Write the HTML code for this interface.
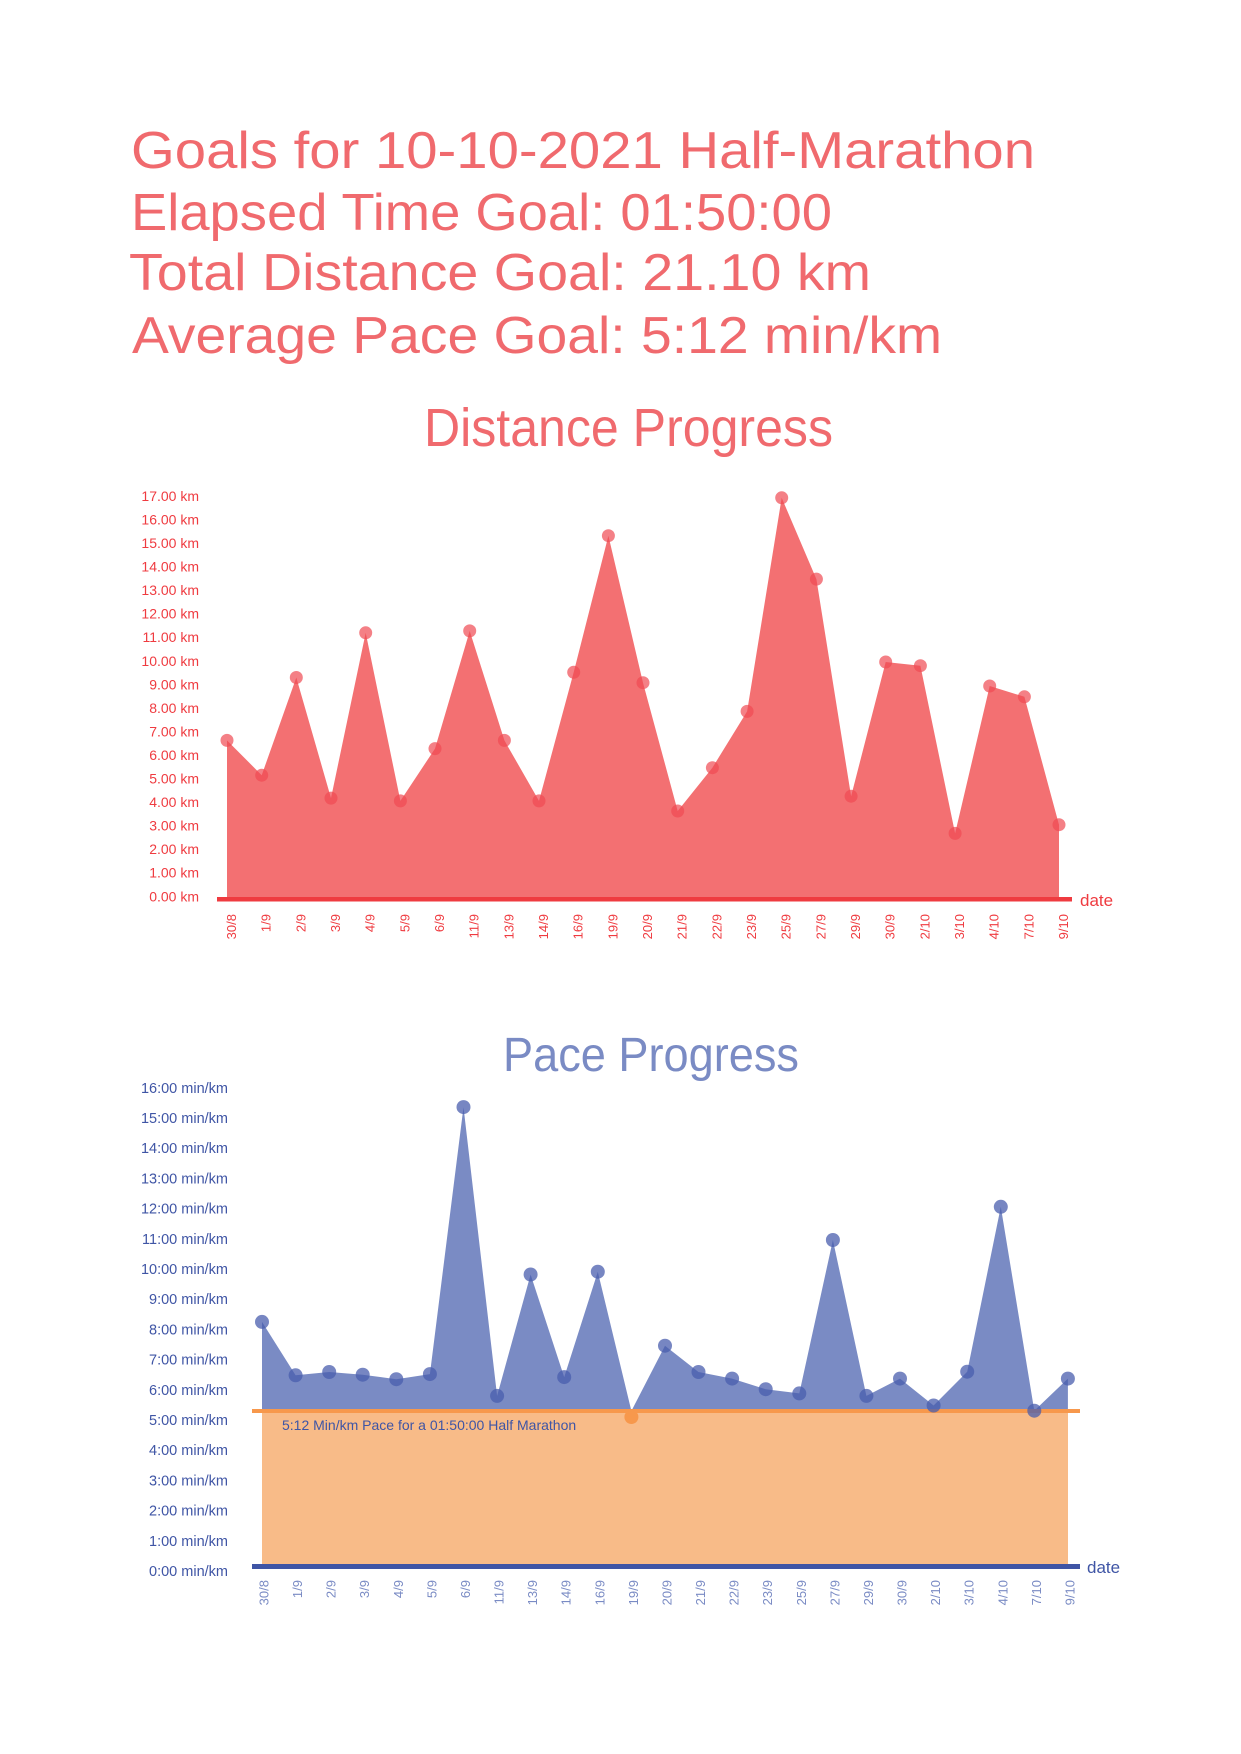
<!DOCTYPE html>
<html><head><meta charset="utf-8"><style>html,body{margin:0;padding:0;background:#fff}svg{display:block}</style></head>
<body>
<svg width="1241" height="1754" viewBox="0 0 1241 1754" xmlns="http://www.w3.org/2000/svg" font-family="Liberation Sans, sans-serif">
<g fill="#f06a6e" font-size="52">
<text x="131" y="168" textLength="904" lengthAdjust="spacingAndGlyphs">Goals for 10-10-2021 Half-Marathon</text>
<text x="131" y="230" textLength="701" lengthAdjust="spacingAndGlyphs">Elapsed Time Goal: 01:50:00</text>
<text x="129" y="290" textLength="742" lengthAdjust="spacingAndGlyphs">Total Distance Goal: 21.10 km</text>
<text x="132" y="353" textLength="810" lengthAdjust="spacingAndGlyphs">Average Pace Goal: 5:12 min/km</text>
</g>
<text x="424" y="446" font-size="54" fill="#f06a6e" textLength="409" lengthAdjust="spacingAndGlyphs">Distance Progress</text>
<!-- Distance chart -->
<polygon fill="#f37072" points="227,897 227,740.4 261.7,775.2 296.3,677.5 331,798.1 365.7,632.8 400.4,800.9 435,748.6 469.7,630.9 504.4,740.4 539,800.9 573.7,672.3 608.4,535.7 643,682.7 677.7,811 712.4,767.7 747.1,711.4 781.7,497.8 816.4,579.1 851.1,796.2 885.7,662 920.4,665.7 955.1,833.4 989.7,686 1024.4,696.8 1059,824.7 1059,897"/>
<g fill="#ef4a52" fill-opacity="0.7">
<circle cx="227" cy="740.4" r="6.5"/><circle cx="261.7" cy="775.2" r="6.5"/><circle cx="296.3" cy="677.5" r="6.5"/><circle cx="331" cy="798.1" r="6.5"/><circle cx="365.7" cy="632.8" r="6.5"/><circle cx="400.4" cy="800.9" r="6.5"/><circle cx="435" cy="748.6" r="6.5"/><circle cx="469.7" cy="630.9" r="6.5"/><circle cx="504.4" cy="740.4" r="6.5"/><circle cx="539" cy="800.9" r="6.5"/><circle cx="573.7" cy="672.3" r="6.5"/><circle cx="608.4" cy="535.7" r="6.5"/><circle cx="643" cy="682.7" r="6.5"/><circle cx="677.7" cy="811" r="6.5"/><circle cx="712.4" cy="767.7" r="6.5"/><circle cx="747.1" cy="711.4" r="6.5"/><circle cx="781.7" cy="497.8" r="6.5"/><circle cx="816.4" cy="579.1" r="6.5"/><circle cx="851.1" cy="796.2" r="6.5"/><circle cx="885.7" cy="662" r="6.5"/><circle cx="920.4" cy="665.7" r="6.5"/><circle cx="955.1" cy="833.4" r="6.5"/><circle cx="989.7" cy="686" r="6.5"/><circle cx="1024.4" cy="696.8" r="6.5"/><circle cx="1059" cy="824.7" r="6.5"/>
</g>
<rect x="217" y="897" width="855" height="4.5" fill="#ef3b40"/>
<text x="1080" y="906" font-size="17" fill="#ef3b40">date</text>
<g fill="#ef3b40" font-size="14" text-anchor="end">
<text x="199" y="501">17.00 km</text><text x="199" y="524.5">16.00 km</text><text x="199" y="548">15.00 km</text><text x="199" y="571.6">14.00 km</text><text x="199" y="595.1">13.00 km</text><text x="199" y="618.7">12.00 km</text><text x="199" y="642.2">11.00 km</text><text x="199" y="665.8">10.00 km</text><text x="199" y="689.3">9.00 km</text><text x="199" y="712.9">8.00 km</text><text x="199" y="736.4">7.00 km</text><text x="199" y="760">6.00 km</text><text x="199" y="783.5">5.00 km</text><text x="199" y="807.1">4.00 km</text><text x="199" y="830.6">3.00 km</text><text x="199" y="854.2">2.00 km</text><text x="199" y="877.7">1.00 km</text><text x="199" y="901.3">0.00 km</text>
</g>
<g fill="#ef3b40" font-size="13" text-anchor="end">
<text transform="translate(236,914) rotate(-90)">30/8</text><text transform="translate(270.7,914) rotate(-90)">1/9</text><text transform="translate(305.3,914) rotate(-90)">2/9</text><text transform="translate(340,914) rotate(-90)">3/9</text><text transform="translate(374.7,914) rotate(-90)">4/9</text><text transform="translate(409.4,914) rotate(-90)">5/9</text><text transform="translate(444,914) rotate(-90)">6/9</text><text transform="translate(478.7,914) rotate(-90)">11/9</text><text transform="translate(513.4,914) rotate(-90)">13/9</text><text transform="translate(548,914) rotate(-90)">14/9</text><text transform="translate(582.7,914) rotate(-90)">16/9</text><text transform="translate(617.4,914) rotate(-90)">19/9</text><text transform="translate(652,914) rotate(-90)">20/9</text><text transform="translate(686.7,914) rotate(-90)">21/9</text><text transform="translate(721.4,914) rotate(-90)">22/9</text><text transform="translate(756.1,914) rotate(-90)">23/9</text><text transform="translate(790.7,914) rotate(-90)">25/9</text><text transform="translate(825.4,914) rotate(-90)">27/9</text><text transform="translate(860.1,914) rotate(-90)">29/9</text><text transform="translate(894.7,914) rotate(-90)">30/9</text><text transform="translate(929.4,914) rotate(-90)">2/10</text><text transform="translate(964.1,914) rotate(-90)">3/10</text><text transform="translate(998.7,914) rotate(-90)">4/10</text><text transform="translate(1033.4,914) rotate(-90)">7/10</text><text transform="translate(1068,914) rotate(-90)">9/10</text>
</g>
<!-- Pace chart -->
<text x="503" y="1071" font-size="48" fill="#7a8bc4" textLength="296" lengthAdjust="spacingAndGlyphs">Pace Progress</text>
<polygon fill="#7a8bc4" points="262,1411 262,1321.9 295.6,1375.3 329.2,1372 362.7,1374.7 396.3,1379.2 429.9,1374.1 463.5,1107.1 497.1,1395.9 530.6,1274.5 564.2,1377.1 597.8,1271.7 631.4,1411 665,1345.7 698.5,1372 732.1,1378.6 765.7,1389.2 799.3,1393.4 832.9,1240 866.4,1395.9 900,1378.6 933.6,1405.5 967.2,1371.7 1000.8,1206.8 1034.3,1410.7 1067.9,1378.6 1067.9,1411"/>
<rect x="262" y="1411" width="806" height="155" fill="#f8bb88"/>
<rect x="252" y="1409" width="828" height="4" fill="#f7984c"/>
<circle cx="631.4" cy="1417" r="7" fill="#f7984c"/>
<g fill="#4a5eae" fill-opacity="0.75">
<circle cx="262" cy="1321.9" r="7"/><circle cx="295.6" cy="1375.3" r="7"/><circle cx="329.2" cy="1372" r="7"/><circle cx="362.7" cy="1374.7" r="7"/><circle cx="396.3" cy="1379.2" r="7"/><circle cx="429.9" cy="1374.1" r="7"/><circle cx="463.5" cy="1107.1" r="7"/><circle cx="497.1" cy="1395.9" r="7"/><circle cx="530.6" cy="1274.5" r="7"/><circle cx="564.2" cy="1377.1" r="7"/><circle cx="597.8" cy="1271.7" r="7"/><circle cx="665" cy="1345.7" r="7"/><circle cx="698.5" cy="1372" r="7"/><circle cx="732.1" cy="1378.6" r="7"/><circle cx="765.7" cy="1389.2" r="7"/><circle cx="799.3" cy="1393.4" r="7"/><circle cx="832.9" cy="1240" r="7"/><circle cx="866.4" cy="1395.9" r="7"/><circle cx="900" cy="1378.6" r="7"/><circle cx="933.6" cy="1405.5" r="7"/><circle cx="967.2" cy="1371.7" r="7"/><circle cx="1000.8" cy="1206.8" r="7"/><circle cx="1034.3" cy="1410.7" r="7"/><circle cx="1067.9" cy="1378.6" r="7"/>
</g>
<text x="282" y="1430" font-size="14" fill="#3f55a5">5:12 Min/km Pace for a 01:50:00 Half Marathon</text>
<rect x="252" y="1564" width="828" height="5" fill="#3f55a5"/>
<text x="1087" y="1573" font-size="17" fill="#3f55a5">date</text>
<g fill="#3f55a5" font-size="14.5" text-anchor="end">
<text x="228" y="1092.8">16:00 min/km</text><text x="228" y="1123">15:00 min/km</text><text x="228" y="1153.2">14:00 min/km</text><text x="228" y="1183.4">13:00 min/km</text><text x="228" y="1213.6">12:00 min/km</text><text x="228" y="1243.8">11:00 min/km</text><text x="228" y="1274">10:00 min/km</text><text x="228" y="1304.2">9:00 min/km</text><text x="228" y="1334.4">8:00 min/km</text><text x="228" y="1364.6">7:00 min/km</text><text x="228" y="1394.8">6:00 min/km</text><text x="228" y="1425">5:00 min/km</text><text x="228" y="1455.2">4:00 min/km</text><text x="228" y="1485.4">3:00 min/km</text><text x="228" y="1515.6">2:00 min/km</text><text x="228" y="1545.8">1:00 min/km</text><text x="228" y="1576">0:00 min/km</text>
</g>
<g fill="#7a8bc4" font-size="13" text-anchor="end">
<text transform="translate(268.5,1580) rotate(-90)">30/8</text><text transform="translate(302.1,1580) rotate(-90)">1/9</text><text transform="translate(335.7,1580) rotate(-90)">2/9</text><text transform="translate(369.2,1580) rotate(-90)">3/9</text><text transform="translate(402.8,1580) rotate(-90)">4/9</text><text transform="translate(436.4,1580) rotate(-90)">5/9</text><text transform="translate(470,1580) rotate(-90)">6/9</text><text transform="translate(503.6,1580) rotate(-90)">11/9</text><text transform="translate(537.1,1580) rotate(-90)">13/9</text><text transform="translate(570.7,1580) rotate(-90)">14/9</text><text transform="translate(604.3,1580) rotate(-90)">16/9</text><text transform="translate(637.9,1580) rotate(-90)">19/9</text><text transform="translate(671.5,1580) rotate(-90)">20/9</text><text transform="translate(705,1580) rotate(-90)">21/9</text><text transform="translate(738.6,1580) rotate(-90)">22/9</text><text transform="translate(772.2,1580) rotate(-90)">23/9</text><text transform="translate(805.8,1580) rotate(-90)">25/9</text><text transform="translate(839.4,1580) rotate(-90)">27/9</text><text transform="translate(872.9,1580) rotate(-90)">29/9</text><text transform="translate(906.5,1580) rotate(-90)">30/9</text><text transform="translate(940.1,1580) rotate(-90)">2/10</text><text transform="translate(973.7,1580) rotate(-90)">3/10</text><text transform="translate(1007.3,1580) rotate(-90)">4/10</text><text transform="translate(1040.8,1580) rotate(-90)">7/10</text><text transform="translate(1074.4,1580) rotate(-90)">9/10</text>
</g>
</svg>
</body></html>
